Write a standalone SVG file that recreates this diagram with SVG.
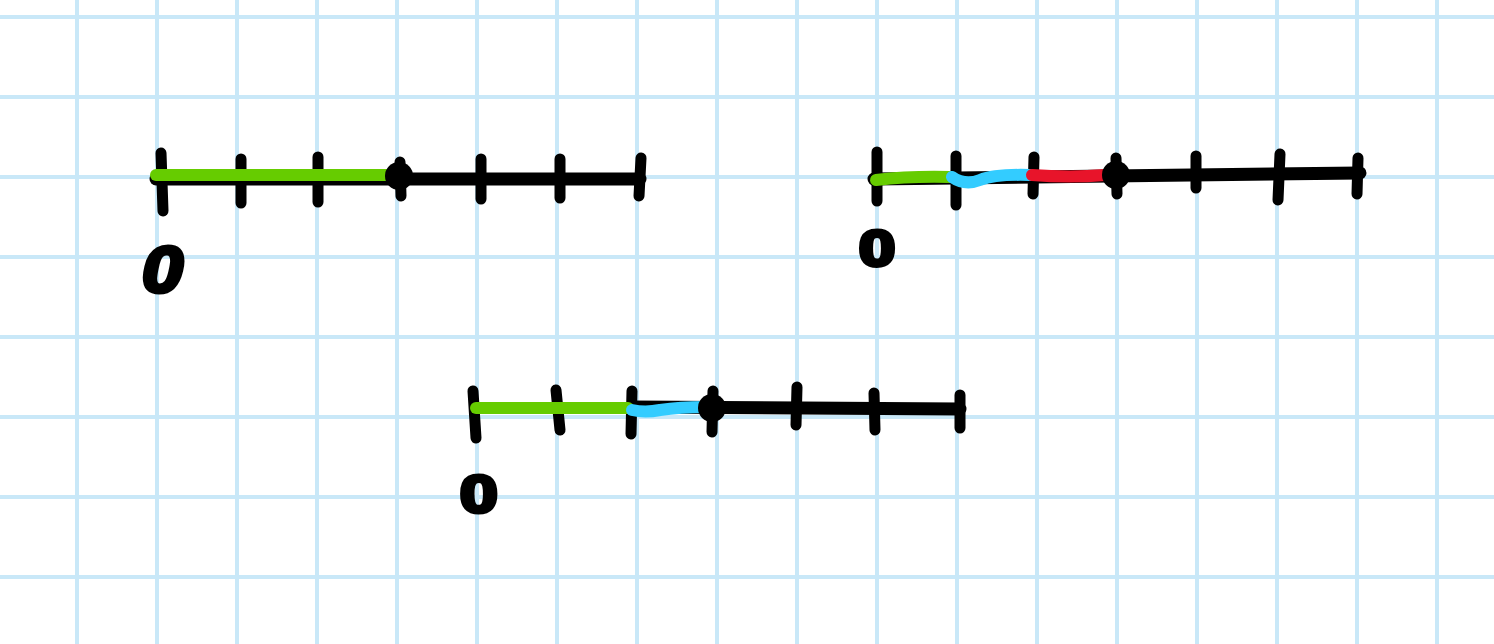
<svg xmlns="http://www.w3.org/2000/svg" width="1494" height="644" viewBox="0 0 1494 644">
<defs>
<style>
.grid line{stroke:#c9e8f8;stroke-width:4}
.axis{fill:none;stroke:#000;stroke-width:13;stroke-linecap:round;stroke-linejoin:round}
.tick{fill:none;stroke:#000;stroke-width:11;stroke-linecap:round}
.seg{fill:none;stroke-width:12;stroke-linecap:round;stroke-linejoin:round}
.g{stroke:#66cc00}.b{stroke:#33ccff}.r{stroke:#e8142a}
.dot{fill:#000}
.zero{font-family:"Liberation Sans",Arial,sans-serif;font-weight:bold;fill:#000;stroke:#000;stroke-width:4;stroke-linejoin:round}
</style>
</defs>
<rect width="1494" height="644" fill="#fff"/>
<g class="grid" id="grid">
<line x1="77" y1="0" x2="77" y2="644"/><line x1="157" y1="0" x2="157" y2="644"/><line x1="237" y1="0" x2="237" y2="644"/><line x1="317" y1="0" x2="317" y2="644"/><line x1="397" y1="0" x2="397" y2="644"/><line x1="477" y1="0" x2="477" y2="644"/><line x1="557" y1="0" x2="557" y2="644"/><line x1="637" y1="0" x2="637" y2="644"/><line x1="717" y1="0" x2="717" y2="644"/><line x1="797" y1="0" x2="797" y2="644"/><line x1="877" y1="0" x2="877" y2="644"/><line x1="957" y1="0" x2="957" y2="644"/><line x1="1037" y1="0" x2="1037" y2="644"/><line x1="1117" y1="0" x2="1117" y2="644"/><line x1="1197" y1="0" x2="1197" y2="644"/><line x1="1277" y1="0" x2="1277" y2="644"/><line x1="1357" y1="0" x2="1357" y2="644"/><line x1="1437" y1="0" x2="1437" y2="644"/>
<line x1="0" y1="17" x2="1494" y2="17"/><line x1="0" y1="97" x2="1494" y2="97"/><line x1="0" y1="177" x2="1494" y2="177"/><line x1="0" y1="257" x2="1494" y2="257"/><line x1="0" y1="337" x2="1494" y2="337"/><line x1="0" y1="417" x2="1494" y2="417"/><line x1="0" y1="497" x2="1494" y2="497"/><line x1="0" y1="577" x2="1494" y2="577"/>
</g>
<g id="numberline1">
<path class="axis" d="M156 179 L640 179"/>
<path class="tick" d="M161 153 L163 211"/>
<path class="tick" d="M241 159 L241 203"/>
<path class="tick" d="M318 157 L318 202"/>
<path class="tick" d="M481 159 L481 199"/>
<path class="tick" d="M560 159 L560 198"/>
<path class="tick" d="M641 158 L639 196"/>
<path class="seg g" d="M156 175 L394 175"/>
<circle class="dot" cx="399" cy="176" r="14"/>
<path class="tick" d="M400 162 L401 196"/>
<text class="zero" x="0" y="0" font-size="64" font-style="italic" transform="translate(142 292) scale(1.15 1)">0</text>
</g>
<g id="numberline2">
<path class="axis" d="M874 179 L1110 176 L1360 173"/>
<path class="tick" d="M877 152 L877 201"/>
<path class="tick" d="M956 156 L956 205"/>
<path class="tick" d="M1034 157 L1033 194"/>
<path class="tick" d="M1196 156 L1196 188"/>
<path class="tick" d="M1280 154 L1278 200"/>
<path class="tick" d="M1358 158 L1357 194"/>
<path class="seg g" d="M876 180 Q910 176 950 177"/>
<path class="seg b" d="M952 177 Q965 186 980 180 Q995 174 1030 175"/>
<path class="seg r" d="M1032 175 Q1070 178 1105 175"/>
<circle class="dot" cx="1116" cy="175" r="14"/>
<path class="tick" d="M1116 158 L1117 194"/>
<text class="zero" x="0" y="0" font-size="50" transform="translate(859 266) scale(1.3 1)">0</text>
</g>
<g id="numberline3">
<path class="axis" d="M632 407 L960 409"/>
<path class="tick" d="M473 391 L476 438"/>
<path class="tick" d="M556 390 L560 430"/>
<path class="tick" d="M632 391 L631 434"/>
<path class="tick" d="M797 387 L796 425"/>
<path class="tick" d="M874 393 L875 430"/>
<path class="tick" d="M960 395 L960 428"/>
<path class="seg g" d="M476 408 L628 408"/>
<path class="seg b" d="M632 410 Q645 413 660 410 Q680 407 705 407"/>
<circle class="dot" cx="712" cy="408" r="14"/>
<path class="tick" d="M713 391 L712 432"/>
<text class="zero" x="0" y="0" font-size="52" transform="translate(460 512) scale(1.3 1)">0</text>
</g>
</svg>
